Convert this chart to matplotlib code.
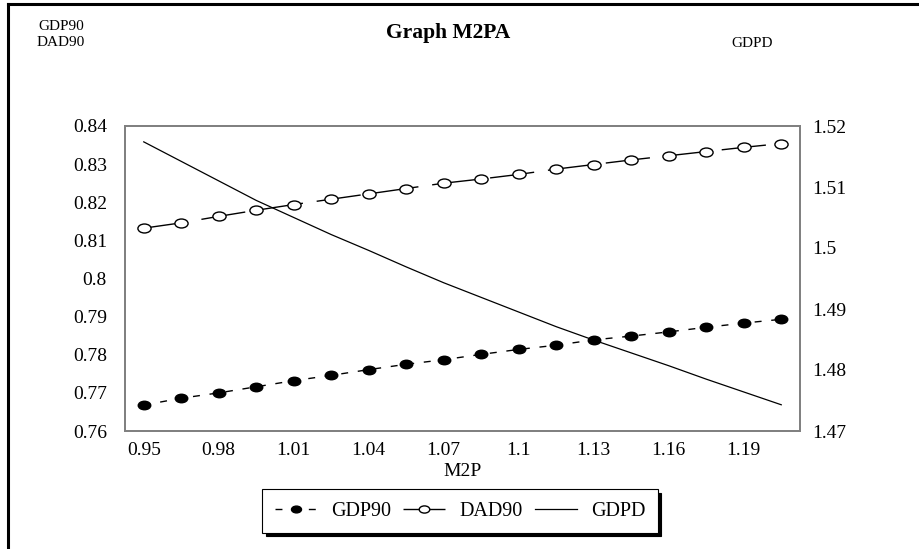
import matplotlib
matplotlib.use("Agg")
import matplotlib.pyplot as plt
import numpy as np
from matplotlib.path import Path
from matplotlib.lines import Line2D

# M2P grid (step 0.015) and series values
m2p = [0.95, 0.965, 0.98, 0.995, 1.01, 1.025, 1.04, 1.055, 1.07, 1.085,
       1.10, 1.115, 1.13, 1.145, 1.16, 1.175, 1.19, 1.205]
gdp90 = [0.7668, 0.7686, 0.7700, 0.7716, 0.7732, 0.7746, 0.7761, 0.7775, 0.7787,
         0.7801, 0.7814, 0.7825, 0.7839, 0.7849, 0.7860, 0.7872, 0.7883, 0.7893]
dad90 = [0.8132, 0.8146, 0.8163, 0.8179, 0.8194, 0.8208, 0.8222, 0.8236, 0.8250,
         0.8261, 0.8273, 0.8287, 0.8299, 0.8311, 0.8322, 0.8333, 0.8344, 0.8354]
gdpd = [1.5174, 1.5142, 1.5110, 1.5078, 1.5050, 1.5022, 1.4996, 1.4969, 1.4943,
        1.4919, 1.4895, 1.4871, 1.4849, 1.4828, 1.4807, 1.4785, 1.4764, 1.4743]

xtick_vals = [0.95, 0.98, 1.01, 1.04, 1.07, 1.10, 1.13, 1.16, 1.19]
xtick_labels = ["0.95", "0.98", "1.01", "1.04", "1.07", "1.1", "1.13", "1.16", "1.19"]
yl_ticks = [0.76, 0.77, 0.78, 0.79, 0.80, 0.81, 0.82, 0.83, 0.84]
yl_labels = ["0.76", "0.77", "0.78", "0.79", "0.8", "0.81", "0.82", "0.83", "0.84"]
yr_ticks = [1.47, 1.48, 1.49, 1.50, 1.51, 1.52]
yr_labels = ["1.47", "1.48", "1.49", "1.5", "1.51", "1.52"]

plt.rcParams["font.family"] = ["Liberation Serif", "DejaVu Serif"]

# flattened ellipse marker
circ = Path.unit_circle()
ellipse = Path(circ.vertices * np.array([1.0, 0.68]), circ.codes)

fig = plt.figure(figsize=(9.2, 5.49), dpi=100)
ax = fig.add_axes([125 / 920, 1 - 431 / 549, 675 / 920, 305 / 549])
ax2 = ax.twinx()

ax.plot(m2p, gdp90, color="black", lw=1.0, dashes=(5, 7),
        marker=ellipse, markersize=9, markerfacecolor="black",
        markeredgecolor="black", label="GDP90", zorder=3)
ax.plot(m2p, dad90, color="black", lw=1.0, dashes=(32, 10),
        marker=ellipse, markersize=9.5, markerfacecolor="white",
        markeredgecolor="black", markeredgewidth=1.0, label="DAD90", zorder=3)
ax2.plot(m2p, gdpd, color="black", lw=0.9, label="GDPD")

ax.set_xlim(0.9425, 1.2125)
ax.set_ylim(0.76, 0.84)
ax2.set_ylim(1.47, 1.52)

ax.set_xticks(xtick_vals)
ax.set_xticklabels(xtick_labels)
ax.set_yticks(yl_ticks)
ax.set_yticklabels(yl_labels)
ax2.set_yticks(yr_ticks)
ax2.set_yticklabels(yr_labels)

ax.tick_params(axis="both", length=0, labelsize=14)
ax.tick_params(axis="y", pad=13)
ax.tick_params(axis="x", pad=8)
ax2.tick_params(axis="y", length=0, labelsize=14, pad=9)

for a in (ax, ax2):
    for s in a.spines.values():
        s.set_color("#808080")
        s.set_linewidth(1.3)

ax.set_xlabel("M2P", fontsize=14, labelpad=3)

fig.text(448 / 920, 1 - 33 / 549, "Graph M2PA", fontsize=15.5,
         fontweight="bold", ha="center", va="center")
fig.text(61 / 920, 1 - 27 / 549, "GDP90", fontsize=11, ha="center", va="center")
fig.text(61 / 920, 1 - 43 / 549, "DAD90", fontsize=11, ha="center", va="center")
fig.text(752 / 920, 1 - 44 / 549, "GDPD", fontsize=11, ha="center", va="center")

# outer frame (left and top edges)
fig.add_artist(Line2D([8 / 920, 8 / 920], [0, 1 - 4 / 549],
                      transform=fig.transFigure, color="black", lw=2.2))
fig.add_artist(Line2D([8 / 920, 1], [1 - 4 / 549, 1 - 4 / 549],
                      transform=fig.transFigure, color="black", lw=2.2))

h1, l1 = ax.get_legend_handles_labels()
h2, l2 = ax2.get_legend_handles_labels()
leg = fig.legend(h1 + h2, l1 + l2, loc="center",
                 bbox_to_anchor=(460 / 920, 1 - 511 / 549), ncol=3,
                 fontsize=14.5, frameon=True, fancybox=False,
                 shadow={"color": "black", "alpha": 1.0, "ox": 2.5, "oy": -2.5},
                 handlelength=2.1, columnspacing=0.6, handletextpad=0.7,
                 markerscale=0.8, borderpad=0.6)
leg.get_frame().set_edgecolor("black")
leg.get_frame().set_linewidth(0.8)

fig.savefig("out.png", dpi=100)
